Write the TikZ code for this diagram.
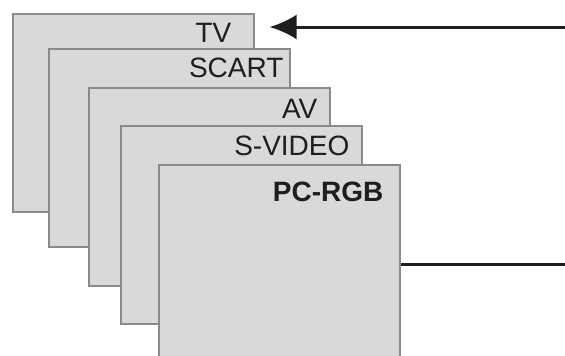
\documentclass[tikz,border=0pt]{standalone}
\usepackage{fontspec}
\setmainfont{Liberation Sans}
\usetikzlibrary{arrows.meta}
\definecolor{boxfill}{HTML}{D9D9D9}
\definecolor{boxline}{HTML}{8A8A8A}
\definecolor{ink}{HTML}{1E1E1E}
\begin{document}
\begin{tikzpicture}[x=1pt,y=-1pt,
  panel/.style={draw=boxline,fill=boxfill,line width=1.6pt,minimum width=241pt,minimum height=198pt,inner sep=0pt,anchor=north west},
  lbl/.style={anchor=base east,inner sep=0pt,text=ink,font=\fontsize{28}{30}\selectfont},
  wire/.style={draw=ink,line width=3pt}]
\useasboundingbox (0,0) rectangle (565,356);
\begin{scope}
\clip (0,0) rectangle (565,356);
\node[panel] (tv) at (12,13) {};
\node[panel] (scart) at (48,48) {};
\node[panel] (av) at (88,87) {};
\node[panel] (svideo) at (120,125) {};
\node[panel,minimum height=210pt] (pc) at (158,164) {};
\end{scope}
\node[lbl] (ltv) at ([shift={(-23,29)}]tv.north east) {TV};
\node[lbl] (lscart) at ([shift={(-7,29)}]scart.north east) {SCART};
\node[lbl] (lav) at ([shift={(-13,31)}]av.north east) {AV};
\node[lbl] (lsv) at ([shift={(-13,30)}]svideo.north east) {S-VIDEO};
\node[lbl,font=\fontsize{28}{30}\selectfont\bfseries] (lpc) at ([shift={(-17,37)}]pc.north east) {PC-RGB};
\coordinate (in1) at (565,27);
\coordinate (out1) at (565,264);
\draw[wire,-{Latex[length=27pt,width=25pt]}] (in1) -- ([xshift=15pt]tv.east |- in1);
\draw[wire] (pc.east |- out1) -- (out1);
\end{tikzpicture}
\end{document}
